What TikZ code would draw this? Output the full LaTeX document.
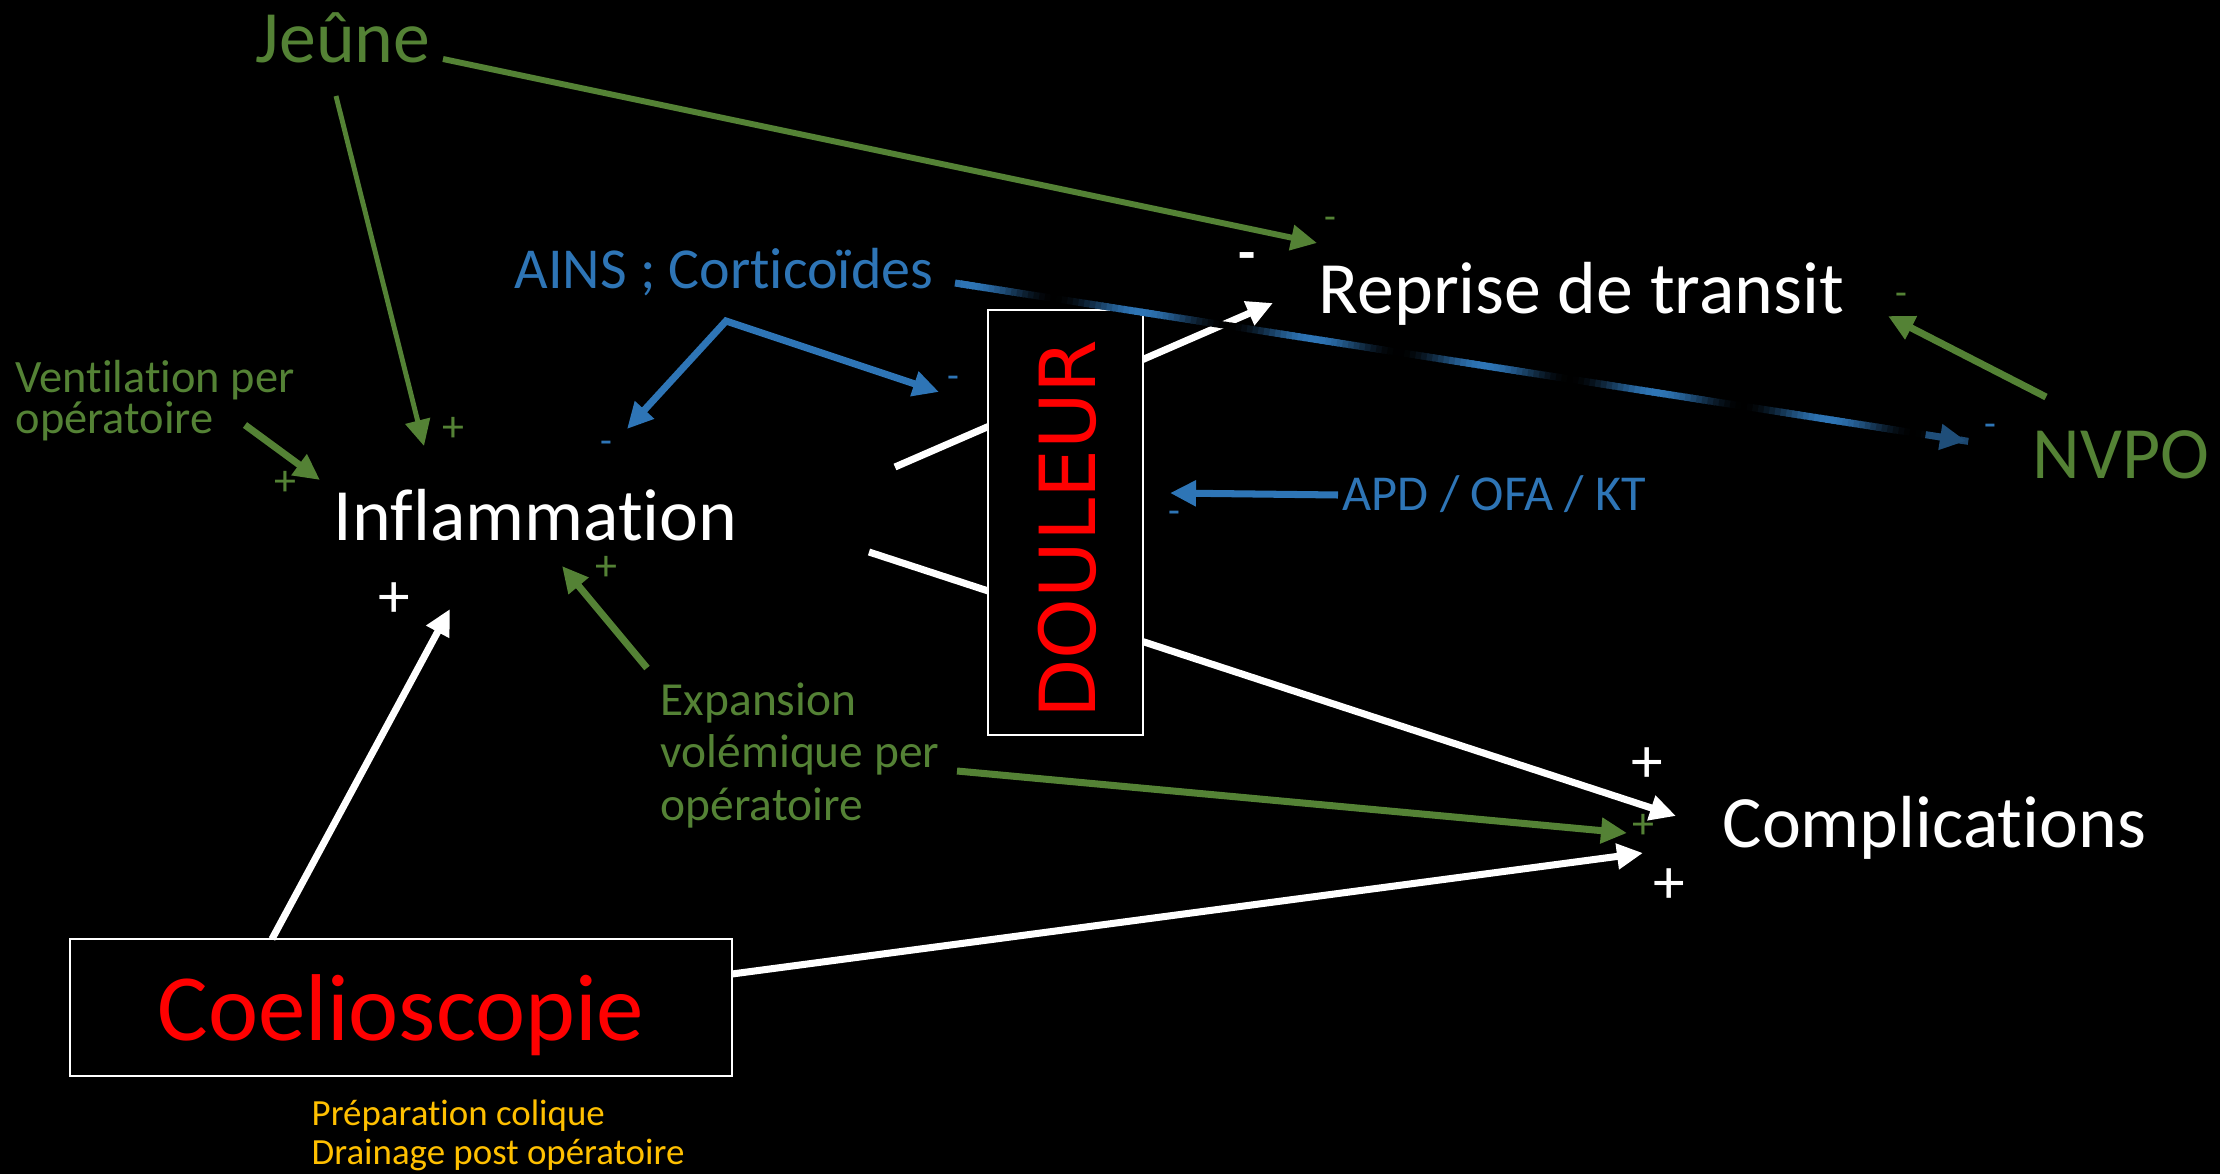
\documentclass[tikz,border=0pt]{standalone}
\usepackage{fontspec}
\setmainfont{Carlito}[Ligatures=NoCommon]
\newfontfamily\painfont{DejaVu Sans}
\usetikzlibrary{arrows.meta,calc}

\definecolor{pgreen}{HTML}{548235}
\definecolor{pblue}{HTML}{2E75B6}
\definecolor{pnavy}{HTML}{1F4E79}
\definecolor{porange}{HTML}{FFC000}

\tikzset{
  ptip/.tip={Triangle[length=7.4pt,width=7pt]},
  txt/.style={inner sep=0pt, anchor=base west},
  big/.style={font=\fontsize{21}{25}\selectfont},
  sgn/.style={inner sep=0pt, font=\fontsize{11}{13}\selectfont},
  bigsgn/.style={inner sep=0pt, font=\fontsize{18}{22}\selectfont},
  lnk/.style={-{ptip}, line width=2pt},
  framebox/.style={draw=white, line width=0.8pt, fill=black},
}

\begin{document}
\begin{tikzpicture}[x=0.1mm, y=-0.1mm]
    \fill[black] (0,0) rectangle (2220,1174);
    \useasboundingbox (0,0) rectangle (2220,1174);

    % main nodes
    \node[txt, big, pgreen] (jeune) at (255,63) {Jeûne};
    \node[txt, big, white] (inflam) at (333,540) {Inflammation};
    \node[txt, big, white] (reprise) at (1318,313) {Reprise de transit};
    \node[txt, big, white] (compl) at (1722,847) {Complications};
    \node[txt, big, pgreen] (nvpo) at (2032,478) {NVPO};

    % multi-line texts: base = last line
    \node[txt, pgreen, align=left, font=\fontsize{13.2}{11.4}\selectfont] (ventil) at (15,433) {Ventilation per\\opératoire};
    \node[txt, pgreen, align=left, font=\fontsize{13.5}{14.8}\selectfont] (expan) at (660,820) {Expansion\\volémique per\\opératoire};
    \node[txt, pblue, font=\fontsize{16.5}{20}\selectfont] (ains) at (514,289) {AINS ; Corticoïdes};
    \node[txt, pblue, font=\fontsize{14.3}{17}\selectfont] (apd) at (1342,510) {APD / OFA / KT};
    \node[txt, porange, align=left, font=\fontsize{10.5}{10.9}\selectfont] (prep) at (311,1164) {Préparation colique\\Drainage post opératoire};

    % arrow ends
    \coordinate (jeune-a) at (443,59);
    \coordinate (jeune-b) at (336,96);
    \coordinate (reprise-g) at (1317,243);
    \coordinate (reprise-w) at (1273,303);
    \coordinate (inflam-j) at (424,446);
    \coordinate (inflam-v) at (320,480);
    \coordinate (inflam-e) at (562,566);
    \coordinate (inflam-c) at (450,609);
    \coordinate (inflam-r1) at (895,467);
    \coordinate (inflam-r2) at (869,552);
    \coordinate (ventil-a) at (245,425);
    \coordinate (expan-a) at (647,668);
    \coordinate (expan-b) at (957,771);
    \coordinate (coelio-a) at (272,939);
    \coordinate (coelio-b) at (732,974);
    \coordinate (compl-w1) at (1676,816);
    \coordinate (compl-g) at (1627,833);
    \coordinate (compl-w2) at (1643,853);
    \coordinate (ains-fork) at (726,321);
    \coordinate (ains-l) at (627,429);
    \coordinate (ains-r) at (939,392);
    \coordinate (ains-a) at (955,283);
    \coordinate (nvpo-b) at (1966,441);
    \coordinate (nvpo-a) at (2046,397);
    \coordinate (nvpo-t) at (1888,316);
    \coordinate (apd-a) at (1338,495);
    \coordinate (douleur-a) at (1170,493);

    % white links going behind DOULEUR
    \draw[lnk, white] (inflam-r1) -- (reprise-w);
    \draw[lnk, white] (inflam-r2) -- (compl-w1);

    \node[framebox, minimum width=155*0.1mm, minimum height=425*0.1mm, inner sep=0pt] (douleurbox) at (1065.5,522.5) {};
    \node[red, rotate=90, inner sep=0pt, font=\painfont\fontsize{22}{26}\selectfont] (douleur) at (1067,529) {DOULEUR};

    \node[framebox, minimum width=662*0.1mm, minimum height=137*0.1mm, inner sep=0pt] (coeliobox) at (401,1007.5) {};
    \node[red, anchor=base, inner sep=0pt, font=\fontsize{27}{32}\selectfont] (coelio) at (401,1040) {Coelioscopie};

    % green links
    \draw[lnk, pgreen, line width=1.7pt] (jeune-a) -- (reprise-g);
    \draw[lnk, pgreen, line width=1.4pt] (jeune-b) -- (inflam-j);
    \draw[lnk, pgreen] (ventil-a) -- (inflam-v);
    \draw[lnk, pgreen] (expan-a) -- (inflam-e);
    \draw[lnk, pgreen] (expan-b) -- (compl-g);
    \draw[lnk, pgreen] (nvpo-a) -- (nvpo-t);

    % white links
    \draw[lnk, white] (coelio-a) -- (inflam-c);
    \draw[lnk, white] (coelio-b) -- (compl-w2);

    % blue links
    \draw[{ptip}-{ptip}, pblue, line width=2pt] (ains-l) -- (ains-fork) -- (ains-r);
    \draw[lnk, pblue] (apd-a) -- (douleur-a);
    \foreach \i in {0,...,179}{
        \pgfmathsetmacro\mix{50+50*cos(360*(\i/180-0.011)/0.17)}
        \draw[line width=2pt, pblue!\mix!black] ($(ains-a)!{\i/180}!(nvpo-b)$) -- ($(ains-a)!{(\i+1.4)/180}!(nvpo-b)$);
    }
    \draw[lnk, pnavy] ($(ains-a)!0.96!(nvpo-b)$) -- (nvpo-b);

    % signs
    \node[sgn, pgreen] (s1) at (1330,223) {-};
    \node[bigsgn, white, font=\bfseries\fontsize{16}{20}\selectfont] (s2) at (1247,262) {-};
    \node[sgn, pgreen] (s3) at (1901,299) {-};
    \node[sgn, pblue] (s4) at (1990,430) {-};
    \node[sgn, pblue] (s5) at (606,447) {-};
    \node[sgn, pblue] (s6) at (953,382) {-};
    \node[sgn, pblue] (s7) at (1174,517) {-};
    \node[sgn, pgreen, font=\fontsize{12.5}{15}\selectfont] (p1) at (453,429) {+};
    \node[sgn, pgreen, font=\fontsize{12.5}{15}\selectfont] (p2) at (285,483) {+};
    \node[sgn, pgreen, font=\fontsize{12.5}{15}\selectfont] (p3) at (606,568) {+};
    \node[sgn, pgreen, font=\fontsize{12.5}{15}\selectfont] (p4) at (1643,826) {+};
    \node[bigsgn, white] (p5) at (394,600) {+};
    \node[bigsgn, white] (p6) at (1647,765) {+};
    \node[bigsgn, white] (p7) at (1669,886) {+};
\end{tikzpicture}
\end{document}
